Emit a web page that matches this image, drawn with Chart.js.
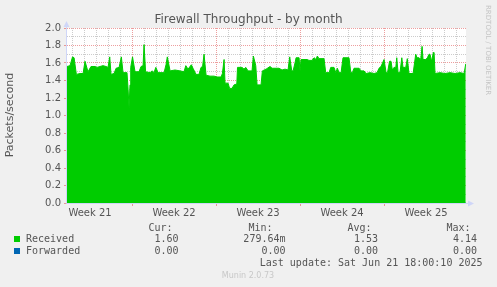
<!DOCTYPE html>
<html>
<head>
<meta charset="utf-8">
<script src="https://cdn.jsdelivr.net/npm/chart.js@4/dist/chart.umd.min.js"></script>
<style>
  html, body { margin: 0; padding: 0; background: #f0f0f0; }
  canvas { display: block; }
</style>
</head>
<body>
<canvas id="fwChart" width="497" height="287"></canvas>
<script>
/* =========================================================
   Firewall Throughput - by month (Munin style)
   ========================================================= */

// days since Monday of week 21
const days = [
  1.58, 1.83, 2.04, 2.17, 2.36, 2.67, 2.92, 3.08, 3.33, 3.58, 3.92, 4.08, 4.33, 4.58, 4.83, 5.00,
  5.14, 5.25, 5.50, 5.67, 5.92, 6.11, 6.25, 6.58, 6.67, 6.75, 6.83, 6.89, 7.04, 7.25, 7.58, 7.75,
  7.92, 8.00, 8.13, 8.50, 8.67, 8.83, 8.98, 9.17, 9.67, 9.83, 9.94, 10.17, 10.58, 11.00, 11.33, 11.48,
  11.67, 11.94, 12.08, 12.33, 12.58, 12.75, 12.88, 13.00, 13.17, 13.50, 13.83, 14.08, 14.42, 14.53, 14.67, 14.75,
  15.00, 15.13, 15.33, 15.50, 15.73, 15.79, 16.17, 16.33, 16.48, 16.67, 17.00, 17.11, 17.31, 17.42, 17.75, 17.86,
  18.17, 18.50, 18.67, 19.25, 19.50, 19.75, 20.00, 20.14, 20.31, 20.42, 20.58, 20.67, 20.92, 21.00, 21.08, 21.58,
  21.75, 22.00, 22.17, 22.33, 22.44, 22.58, 23.00, 23.14, 23.42, 23.56, 23.83, 23.98, 24.11, 24.25, 24.42, 24.58,
  25.08, 25.23, 25.36, 25.50, 25.92, 26.08, 26.33, 26.50, 26.83, 27.17, 27.42, 27.58, 27.75, 28.00, 28.17, 28.29,
  28.46, 28.58, 28.69, 28.83, 28.98, 29.06, 29.17, 29.33, 29.48, 29.58, 29.81, 29.94, 30.08, 30.42, 30.64, 30.75,
  30.92, 31.06, 31.17, 31.25, 31.48, 31.61, 31.75, 31.83, 31.96, 32.11, 32.17, 32.25, 32.67, 33.08, 33.50, 33.92,
  34.33, 34.67, 34.81
];

const received = [
  1.56, 1.57, 1.67, 1.66, 1.47, 1.48, 1.48, 1.62, 1.50, 1.56, 1.56, 1.55, 1.56, 1.57, 1.56, 1.55,
  1.67, 1.47, 1.48, 1.54, 1.55, 1.67, 1.49, 1.49, 1.30, 1.09, 1.35, 1.55, 1.67, 1.50, 1.50, 1.56,
  1.57, 1.81, 1.50, 1.49, 1.51, 1.49, 1.55, 1.49, 1.49, 1.58, 1.67, 1.51, 1.52, 1.51, 1.50, 1.57,
  1.53, 1.58, 1.54, 1.47, 1.47, 1.55, 1.56, 1.70, 1.46, 1.45, 1.45, 1.44, 1.44, 1.48, 1.64, 1.37,
  1.37, 1.31, 1.31, 1.35, 1.36, 1.55, 1.55, 1.53, 1.55, 1.51, 1.51, 1.68, 1.57, 1.35, 1.35, 1.51,
  1.53, 1.56, 1.54, 1.54, 1.52, 1.53, 1.52, 1.67, 1.51, 1.51, 1.60, 1.66, 1.66, 1.51, 1.64, 1.64,
  1.63, 1.63, 1.66, 1.64, 1.68, 1.65, 1.65, 1.49, 1.49, 1.55, 1.55, 1.49, 1.54, 1.49, 1.49, 1.66,
  1.66, 1.49, 1.49, 1.54, 1.54, 1.51, 1.51, 1.48, 1.49, 1.48, 1.49, 1.54, 1.56, 1.64, 1.49, 1.49,
  1.62, 1.62, 1.52, 1.55, 1.55, 1.66, 1.49, 1.49, 1.66, 1.55, 1.55, 1.65, 1.48, 1.48, 1.70, 1.66,
  1.66, 1.64, 1.79, 1.64, 1.64, 1.66, 1.70, 1.70, 1.62, 1.72, 1.72, 1.48, 1.49, 1.48, 1.49, 1.48,
  1.49, 1.48, 1.59
];

const forwardedDays = [1.58, 34.81];
const forwarded = [0, 0];

const weekCenters = [3.5, 10.5, 17.5, 24.5, 31.5];
const weekLabels = ['Week 21', 'Week 22', 'Week 23', 'Week 24', 'Week 25'];

const statHeaders = ['Cur:', 'Min:', 'Avg:', 'Max:'];
const receivedStats = ['1.60', '279.64m', '1.53', '4.14'];
const forwardedStats = ['0.00', '0.00', '0.00', '0.00'];

const X_MIN = 1.58, X_MAX = 34.83;

const GRID_MINOR = 'rgba(143,143,143,0.45)';
const GRID_MAJOR = 'rgba(222,79,79,0.55)';
const NONE = 'rgba(0,0,0,0)';
const AXIS = '#CFD6F8';

// ─── Munin decorations ───────────────────────────────────
const muninPlugin = {
  id: 'munin',
  beforeDraw(chart) {
    const { ctx, chartArea: a } = chart;
    ctx.save();
    ctx.fillStyle = '#ffffff';
    ctx.fillRect(a.left, a.top, a.right - a.left, a.bottom - a.top);
    ctx.restore();
  },
  afterDraw(chart) {
    const { ctx, chartArea: a } = chart;
    ctx.save();

    // axes + arrows
    ctx.strokeStyle = AXIS;
    ctx.fillStyle = AXIS;
    ctx.lineWidth = 1;
    ctx.beginPath();
    ctx.moveTo(a.left - 0.5, a.bottom + 0.5);
    ctx.lineTo(a.left - 0.5, a.top - 4);
    ctx.moveTo(a.left - 0.5, a.bottom + 0.5);
    ctx.lineTo(a.right + 4, a.bottom + 0.5);
    ctx.stroke();
    ctx.beginPath();
    ctx.moveTo(a.left - 0.5, a.top - 7);
    ctx.lineTo(a.left - 3.5, a.top - 1);
    ctx.lineTo(a.left + 2.5, a.top - 1);
    ctx.closePath();
    ctx.fill();
    ctx.beginPath();
    ctx.moveTo(a.right + 8, a.bottom + 0.5);
    ctx.lineTo(a.right + 2, a.bottom - 2.5);
    ctx.lineTo(a.right + 2, a.bottom + 3.5);
    ctx.closePath();
    ctx.fill();

    // title
    ctx.fillStyle = '#555';
    ctx.font = '12px "DejaVu Sans"';
    ctx.textAlign = 'center';
    ctx.textBaseline = 'middle';
    ctx.fillText('Firewall Throughput - by month', 248.5, 19.5);

    // y axis title
    ctx.save();
    ctx.translate(10.5, 115);
    ctx.rotate(-Math.PI / 2);
    ctx.font = '11px "DejaVu Sans"';
    ctx.fillStyle = '#555';
    ctx.fillText('Packets/second', 0, 0);
    ctx.restore();

    // rrdtool watermark
    ctx.save();
    ctx.translate(487.5, 5);
    ctx.rotate(Math.PI / 2);
    ctx.font = '7px "DejaVu Sans"';
    ctx.fillStyle = '#c4c4c4';
    ctx.textAlign = 'left';
    ctx.fillText('RRDTOOL / TOBI OETIKER', 0, 0);
    ctx.restore();

    // legend table
    ctx.font = '10px "DejaVu Sans Mono"';
    ctx.fillStyle = '#555';
    ctx.textAlign = 'right';
    const headX = [172.5, 272.5, 371.5, 470.5];
    const valX = [178.5, 285.5, 378, 477];
    statHeaders.forEach((h, i) => ctx.fillText(h, headX[i], 228.5));
    receivedStats.forEach((v, i) => ctx.fillText(v, valX[i], 239.5));
    forwardedStats.forEach((v, i) => ctx.fillText(v, valX[i], 251.5));

    ctx.textAlign = 'left';
    ctx.fillText('Received', 26, 239.5);
    ctx.fillText('Forwarded', 26, 251.5);
    ctx.fillStyle = '#00cc00';
    ctx.fillRect(14, 236, 6, 6);
    ctx.fillStyle = '#0066b3';
    ctx.fillRect(14, 248, 6, 6);

    ctx.fillStyle = '#555';
    ctx.textAlign = 'right';
    ctx.fillText('Last update: Sat Jun 21 18:00:10 2025', 482.5, 263.5);

    ctx.fillStyle = '#c8c8c8';
    ctx.font = '8px "DejaVu Sans"';
    ctx.textAlign = 'center';
    ctx.fillText('Munin 2.0.73', 248, 275.5);

    ctx.restore();
  },
};

document.addEventListener('DOMContentLoaded', () => {
  renderThroughputChart();
});

function renderThroughputChart() {
  const canvas = document.getElementById('fwChart');
  if (!canvas) return;

  new Chart(canvas, {
    type: 'line',
    data: {
      datasets: [
        {
          label: 'Received',
          data: days.map((d, i) => ({ x: d, y: received[i] })),
          borderColor: '#00cc00',
          backgroundColor: '#00cc00',
          borderWidth: 1,
          fill: 'origin',
          pointRadius: 0,
          tension: 0,
          order: 1,
        },
        {
          label: 'Forwarded',
          data: forwardedDays.map((d, i) => ({ x: d, y: forwarded[i] })),
          borderColor: '#0066b3',
          borderWidth: 1,
          fill: false,
          pointRadius: 0,
          order: 2,
        },
      ],
    },
    options: {
      responsive: false,
      animation: false,
      devicePixelRatio: 1,
      layout: { padding: { top: 28, left: 0, right: 31, bottom: 64 } },
      plugins: { legend: { display: false }, tooltip: { enabled: false } },
      scales: {
        x: {
          type: 'linear',
          min: X_MIN,
          max: X_MAX,
          z: 1,
          afterBuildTicks: scale => {
            const t = [];
            for (let d = 2; d <= 34; d++) t.push({ value: d });
            weekCenters.forEach(c => t.push({ value: c }));
            t.sort((p, q) => p.value - q.value);
            scale.ticks = t;
          },
          afterFit: scale => { scale.height = 20; },
          grid: {
            color: c => {
              const v = c.tick.value;
              if (!Number.isInteger(v)) return NONE;
              return v % 7 === 0 ? GRID_MAJOR : GRID_MINOR;
            },
            tickLength: 3,
            tickColor: c => (Number.isInteger(c.tick.value) && c.tick.value % 7 === 0) ? GRID_MAJOR : NONE,
          },
          border: { display: false, dash: [1, 1] },
          ticks: {
            autoSkip: false,
            maxRotation: 0,
            padding: 1,
            color: '#555',
            font: { family: 'DejaVu Sans', size: 10 },
            callback: v => {
              const i = weekCenters.indexOf(v);
              return i >= 0 ? weekLabels[i] : '';
            },
          },
        },
        y: {
          min: 0,
          max: 2,
          z: 1,
          afterFit: scale => { scale.width = 67; },
          grid: {
            color: c => Math.round(c.tick.value * 10) % 2 === 0 ? GRID_MAJOR : GRID_MINOR,
            tickLength: 3,
            tickColor: c => Math.round(c.tick.value * 10) % 2 === 0 ? GRID_MAJOR : NONE,
          },
          border: { display: false, dash: [1, 1] },
          ticks: {
            stepSize: 0.1,
            autoSkip: false,
            padding: 3,
            color: '#555',
            font: { family: 'DejaVu Sans', size: 10 },
            callback: v => Math.round(v * 10) % 2 === 0 ? v.toFixed(1) : '',
          },
        },
      },
    },
    plugins: [muninPlugin],
  });
}
</script>
</body>
</html>
